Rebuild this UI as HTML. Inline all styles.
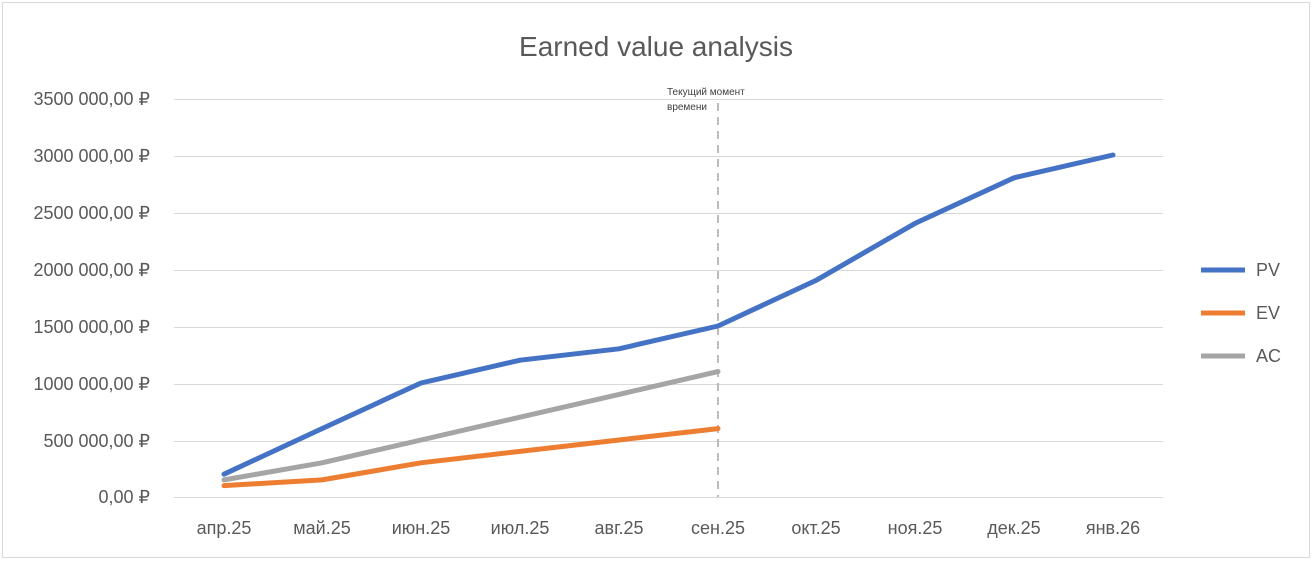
<!DOCTYPE html>
<html><head><meta charset="utf-8"><style>body{margin:0;background:#fff}svg{display:block}text{font-family:"Liberation Sans",sans-serif}</style></head>
<body>
<svg width="1313" height="562" xmlns="http://www.w3.org/2000/svg">
<rect x="2.5" y="2.5" width="1307" height="555" fill="#fff" stroke="#d9d9d9"/>
<text x="656" y="56" text-anchor="middle" font-size="28" fill="#595959">Earned value analysis</text>
<g stroke="#d9d9d9" stroke-width="1">
<line x1="174" x2="1163" y1="99.5" y2="99.5"/><line x1="174" x2="1163" y1="156.5" y2="156.5"/>
<line x1="174" x2="1163" y1="213.5" y2="213.5"/><line x1="174" x2="1163" y1="270.5" y2="270.5"/>
<line x1="174" x2="1163" y1="327.5" y2="327.5"/><line x1="174" x2="1163" y1="384.5" y2="384.5"/>
<line x1="174" x2="1163" y1="441.5" y2="441.5"/><line x1="174" x2="1163" y1="497.5" y2="497.5"/>
</g>
<g font-size="18" fill="#595959" text-anchor="end">
<text x="150" y="105">3500 000,00 ₽</text><text x="150" y="162">3000 000,00 ₽</text>
<text x="150" y="219">2500 000,00 ₽</text><text x="150" y="276">2000 000,00 ₽</text>
<text x="150" y="333">1500 000,00 ₽</text><text x="150" y="390">1000 000,00 ₽</text>
<text x="150" y="447">500 000,00 ₽</text><text x="150" y="503">0,00 ₽</text>
</g>
<g font-size="18" fill="#595959" text-anchor="middle">
<text x="224" y="534">апр.25</text><text x="322" y="534">май.25</text><text x="421" y="534">июн.25</text>
<text x="520" y="534">июл.25</text><text x="619" y="534">авг.25</text><text x="718" y="534">сен.25</text>
<text x="816" y="534">окт.25</text><text x="915" y="534">ноя.25</text><text x="1014" y="534">дек.25</text>
<text x="1113" y="534">янв.26</text>
</g>
<line x1="718" x2="718" y1="103" y2="497" stroke="#a6a6a6" stroke-width="1.5" stroke-dasharray="8,6"/>
<text x="667" y="95" font-size="10" fill="#404040">Текущий момент</text>
<text x="667" y="110" font-size="10" fill="#404040">времени</text>
<g fill="none" stroke-width="5" stroke-linejoin="round" stroke-linecap="round">
<polyline stroke="#4472c4" points="224,474.2 322,428.6 421,383 520,360.2 619,348.8 718,326 816,280.4 915,223.4 1014,177.8 1113,155"/>
<polyline stroke="#a5a5a5" points="224,479.9 322,462.8 421,440 520,417.2 619,394.4 718,371.6"/>
<polyline stroke="#ed7d31" points="224,485.6 322,479.9 421,462.8 520,451.4 619,440 718,428.6"/>
</g>
<g stroke-width="5">
<line x1="1201" x2="1245" y1="270" y2="270" stroke="#4472c4"/>
<line x1="1201" x2="1245" y1="313" y2="313" stroke="#ed7d31"/>
<line x1="1201" x2="1245" y1="356" y2="356" stroke="#a5a5a5"/>
</g>
<g font-size="18" fill="#595959">
<text x="1256" y="276">PV</text><text x="1256" y="319">EV</text><text x="1256" y="362">AC</text>
</g>
</svg>
</body></html>
